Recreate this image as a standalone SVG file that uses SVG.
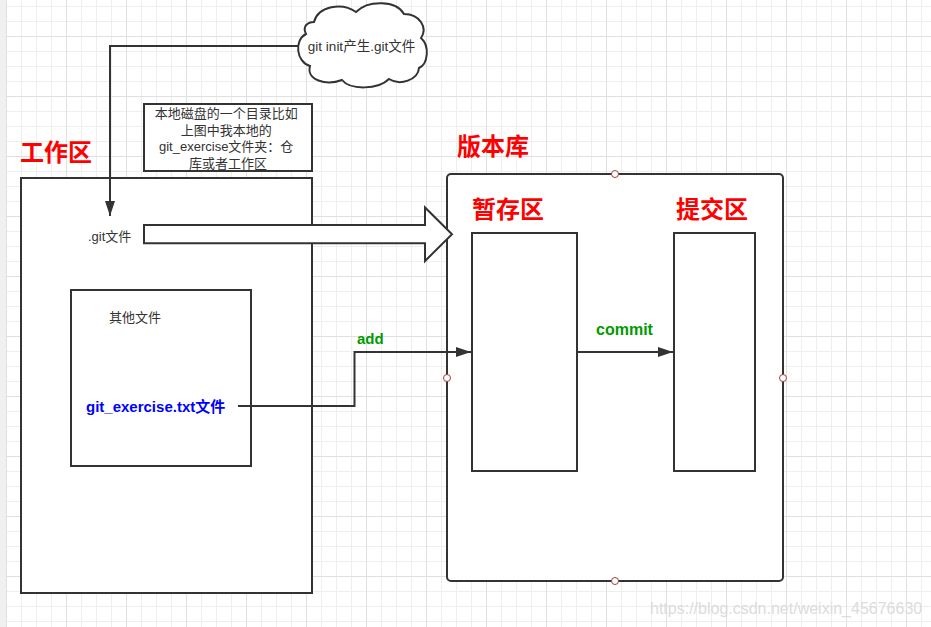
<svg xmlns="http://www.w3.org/2000/svg" width="931" height="627" viewBox="0 0 931 627">
<style>
.t{font-family:"Liberation Sans","Noto Sans CJK SC",sans-serif;fill:#333;font-size:13px}
.h{font-family:"Noto Sans CJK SC",sans-serif;font-weight:bold;fill:#ff0000;font-size:24px}
.g{font-family:"Liberation Sans","Noto Sans CJK SC",sans-serif;font-weight:bold;fill:#009900}
.box{fill:#fff;stroke:#333;stroke-width:2}
.ln{fill:none;stroke:#333;stroke-width:2}
.pt{fill:#fff;stroke:#a0403c;stroke-width:1}
</style>
<defs>
<pattern id="grid" x="6" y="-24" width="60" height="60" patternUnits="userSpaceOnUse">
<rect x="0" y="0" width="60" height="60" fill="#fff"/>
<rect x="15" y="0" width="1" height="60" fill="#eeeeee"/>
<rect x="30" y="0" width="1" height="60" fill="#eeeeee"/>
<rect x="45" y="0" width="1" height="60" fill="#eeeeee"/>
<rect x="0" y="15" width="60" height="1" fill="#eeeeee"/>
<rect x="0" y="30" width="60" height="1" fill="#eeeeee"/>
<rect x="0" y="45" width="60" height="1" fill="#eeeeee"/>
<rect x="0" y="0" width="1" height="60" fill="#e0e0e0"/>
<rect x="0" y="0" width="60" height="1" fill="#e0e0e0"/>
</pattern>
<marker id="arr" markerWidth="16" markerHeight="12" refX="15" refY="5" orient="auto" markerUnits="userSpaceOnUse" viewBox="0 0 16 10">
<path d="M0 0 L15 5 L0 10 Z" fill="#333"/>
</marker>
</defs>
<rect x="0" y="0" width="931" height="627" fill="#f0f0f0"/>
<rect x="6" y="0" width="925" height="627" fill="url(#grid)"/>

<g id="workarea">
<rect class="box" x="21" y="178" width="291" height="415"/>
<text class="h" x="20" y="161">工作区</text>
</g>
<g id="gitfile">
<text class="t" x="88" y="240.5">.git文件</text>
</g>
<g id="otherfiles">
<rect class="box" x="71" y="290" width="180" height="176"/>
<text class="t" x="109" y="321.5">其他文件</text>
<text x="86" y="412" style="font-family:'Liberation Sans','Noto Sans CJK SC',sans-serif;font-weight:bold;font-size:15px;fill:#0000ff">git_exercise.txt文件</text>
</g>
<g id="note">
<rect class="box" x="144" y="104" width="168" height="67"/>
<text class="t" text-anchor="middle" x="228">
<tspan x="228" y="118">本地磁盘的一个目录比如</tspan>
<tspan x="228" y="134.5">上图中我本地的</tspan>
<tspan x="228" y="151">git_exercise文件夹：仓</tspan>
<tspan x="228" y="167.5">库或者工作区</tspan>
</text>
</g>
<g id="cloud">
<path class="box" d="M314 22 C318 6 342 2 356 12 C368 0 396 0 404 14 C420 14 428 28 421 38 C430 46 428 64 419 68 C418 80 400 86 389 79 C378 90 350 90 342 80 C326 86 306 80 310 66 C296 62 294 40 306 34 C302 26 308 22 314 22 Z"/>
<text class="t" x="361.5" y="51" text-anchor="middle" style="font-size:13.5px">git init产生.git文件</text>
</g>
<g id="repo">
<rect class="box" x="447" y="174" width="336" height="407" rx="4" ry="4"/>
<text class="h" x="457" y="155">版本库</text>
<circle class="pt" cx="615" cy="174" r="3.5"/>
<circle class="pt" cx="447" cy="378" r="3.5"/>
<circle class="pt" cx="783" cy="378" r="3.5"/>
<circle class="pt" cx="615" cy="581" r="3.5"/>
</g>
<g id="stage">
<text class="h" x="472" y="217.5">暂存区</text>
<rect class="box" x="472" y="233" width="105" height="238"/>
</g>
<g id="commitarea">
<text class="h" x="676" y="217.5">提交区</text>
<rect class="box" x="674" y="233" width="81" height="238"/>
</g>

<g id="connectors">
<polyline class="ln" points="298,46 110,46 110,216" marker-end="url(#arr)"/>
<polygon class="box" points="144,225 425,225 425,207.5 452,234.3 425,261 425,243.3 144,243.3"/>
<polyline class="ln" points="238,406 354.5,406 354.5,352 471,352" marker-end="url(#arr)"/>
<text class="g" x="357" y="343.5" style="font-size:15px">add</text>
<line class="ln" x1="577" y1="352" x2="673" y2="352" marker-end="url(#arr)"/>
<text class="g" x="596" y="335" style="font-size:16px">commit</text>
</g>
<text x="650" y="614" style="font-family:'Liberation Sans',sans-serif;font-size:16px;fill:#dcdcdc">https://blog.csdn.net/weixin_45676630</text>
</svg>
